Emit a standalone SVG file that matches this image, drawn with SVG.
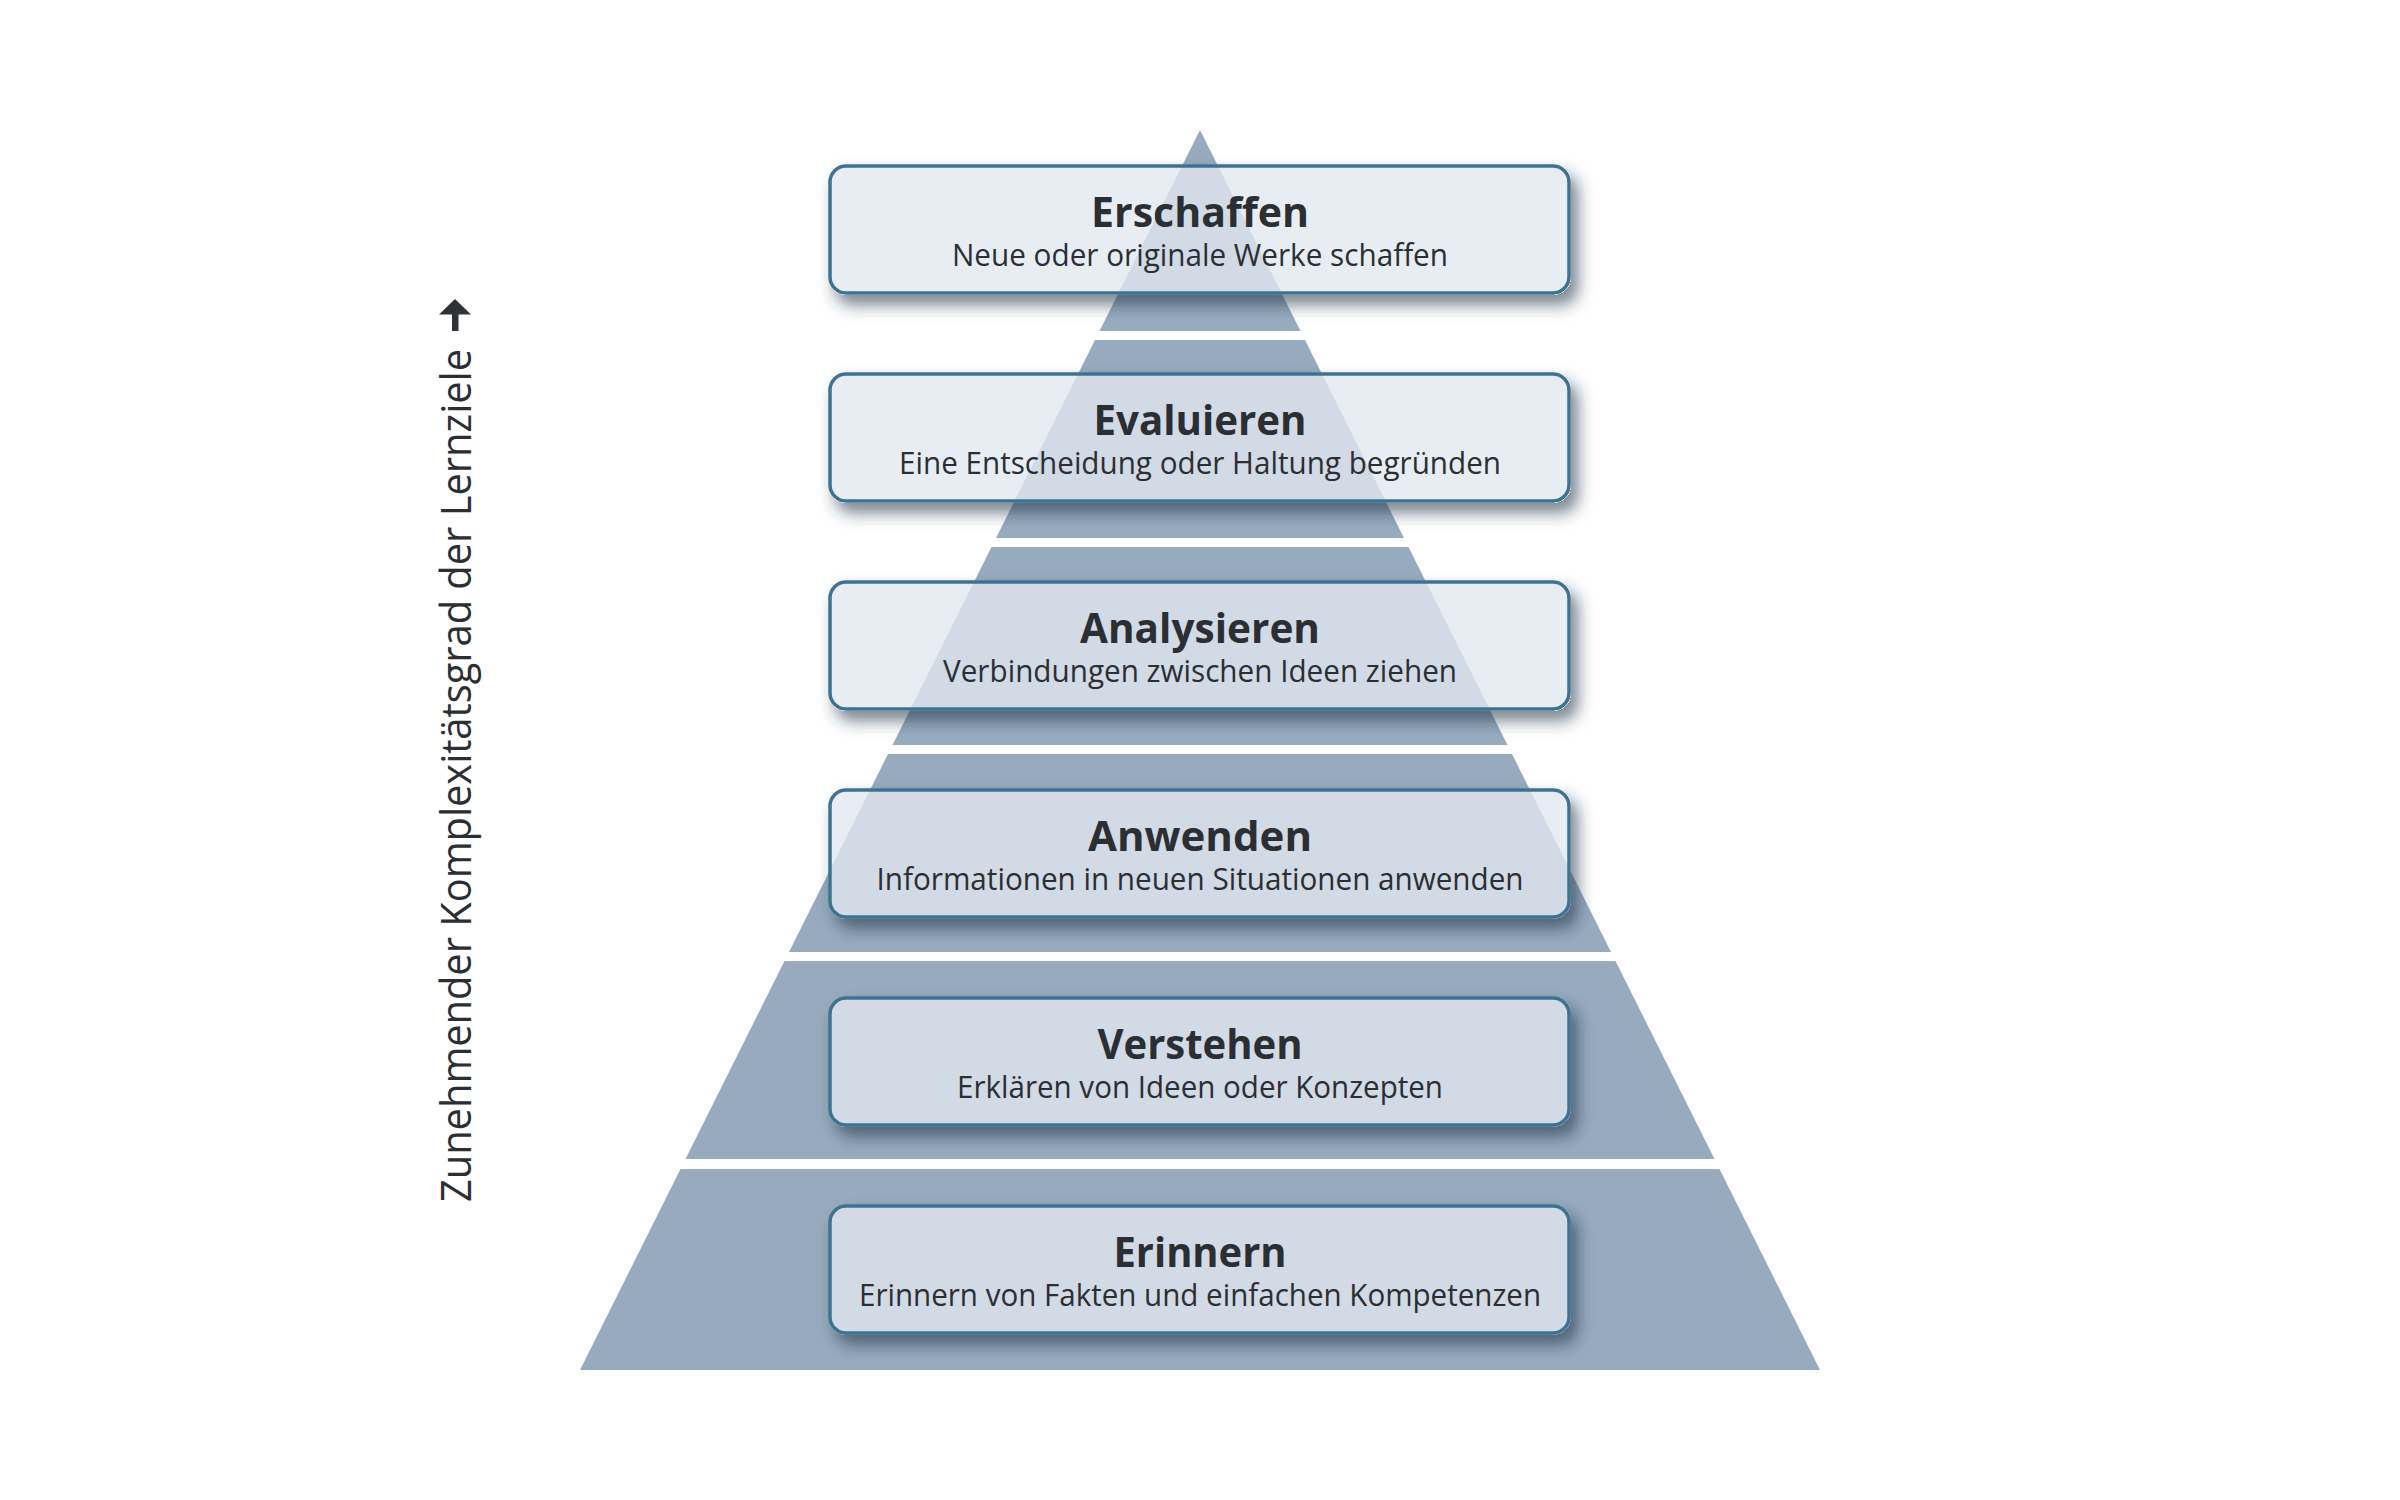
<svg xmlns="http://www.w3.org/2000/svg" width="2400" height="1500" viewBox="0 0 2400 1500">
  <defs>
    <style>
      .tier { fill: #98abbe; }
      .box { fill: #e2e8ef; fill-opacity: 0.78; stroke: #3d7391; stroke-width: 3.5; }
      .title { font-family: "Open Sans", "Liberation Sans", sans-serif; font-weight: 700; font-size: 42px; fill: #2b2e33; text-anchor: middle; }
      .sub { font-family: "Open Sans", "Liberation Sans", sans-serif; font-weight: 400; font-size: 31px; fill: #2b2e33; text-anchor: middle; }
      .axis { font-family: "Open Sans", "Liberation Sans", sans-serif; font-weight: 400; font-size: 42px; fill: #2b2e33; }
    </style>
    <filter id="shadow" x="-10%" y="-30%" width="125%" height="170%">
      <feComponentTransfer in="SourceAlpha" result="solid">
        <feFuncA type="linear" slope="20"/>
      </feComponentTransfer>
      <feGaussianBlur in="solid" stdDeviation="8" result="blur"/>
      <feOffset in="blur" dx="7" dy="10" result="off"/>
      <feFlood flood-color="#1e3446" flood-opacity="0.6"/>
      <feComposite in2="off" operator="in" result="sh"/>
      <feComposite in="sh" in2="solid" operator="out" result="shOut"/>
      <feMerge>
        <feMergeNode in="shOut"/>
        <feMergeNode in="SourceGraphic"/>
      </feMerge>
    </filter>
  </defs>

  <rect x="0" y="0" width="2400" height="1500" fill="#ffffff"/>

  <g id="pyramid">
    <polygon class="tier" points="1200,130 1300.5,331 1099.5,331"/>
    <polygon class="tier" points="1095,340 1305,340 1404,538 996,538"/>
    <polygon class="tier" points="991.5,547 1408.5,547 1507.5,745 892.5,745"/>
    <polygon class="tier" points="888,754 1512,754 1611,952 789,952"/>
    <polygon class="tier" points="784.5,961 1615.5,961 1714.5,1159 685.5,1159"/>
    <polygon class="tier" points="680.5,1169 1719.5,1169 1820,1370 580,1370"/>
  </g>

  <g id="connectors"></g>

  <g id="node-erschaffen">
    <rect class="box" x="830" y="166" width="739" height="127" rx="16" filter="url(#shadow)"/>
    <text class="title" x="1200" y="226.5" textLength="218" lengthAdjust="spacingAndGlyphs">Erschaffen</text>
    <text class="sub" x="1200" y="266" textLength="496" lengthAdjust="spacingAndGlyphs">Neue oder originale Werke schaffen</text>
  </g>

  <g id="node-evaluieren">
    <rect class="box" x="830" y="374" width="739" height="127" rx="16" filter="url(#shadow)"/>
    <text class="title" x="1200" y="434.5" textLength="213" lengthAdjust="spacingAndGlyphs">Evaluieren</text>
    <text class="sub" x="1200" y="474" textLength="602" lengthAdjust="spacingAndGlyphs">Eine Entscheidung oder Haltung begründen</text>
  </g>

  <g id="node-analysieren">
    <rect class="box" x="830" y="582" width="739" height="127" rx="16" filter="url(#shadow)"/>
    <text class="title" x="1200" y="642.5" textLength="240" lengthAdjust="spacingAndGlyphs">Analysieren</text>
    <text class="sub" x="1200" y="682" textLength="514" lengthAdjust="spacingAndGlyphs">Verbindungen zwischen Ideen ziehen</text>
  </g>

  <g id="node-anwenden">
    <rect class="box" x="830" y="790" width="739" height="127" rx="16" filter="url(#shadow)"/>
    <text class="title" x="1200" y="850.5" textLength="224" lengthAdjust="spacingAndGlyphs">Anwenden</text>
    <text class="sub" x="1200" y="890" textLength="647" lengthAdjust="spacingAndGlyphs">Informationen in neuen Situationen anwenden</text>
  </g>

  <g id="node-verstehen">
    <rect class="box" x="830" y="998" width="739" height="127" rx="16" filter="url(#shadow)"/>
    <text class="title" x="1200" y="1058.5" textLength="205" lengthAdjust="spacingAndGlyphs">Verstehen</text>
    <text class="sub" x="1200" y="1098" textLength="486" lengthAdjust="spacingAndGlyphs">Erklären von Ideen oder Konzepten</text>
  </g>

  <g id="node-erinnern">
    <rect class="box" x="830" y="1206" width="739" height="127" rx="16" filter="url(#shadow)"/>
    <text class="title" x="1200" y="1266.5" textLength="173" lengthAdjust="spacingAndGlyphs">Erinnern</text>
    <text class="sub" x="1200" y="1306" textLength="682" lengthAdjust="spacingAndGlyphs">Erinnern von Fakten und einfachen Kompetenzen</text>
  </g>

  <g id="axis">
    <text class="axis" transform="translate(471,1202) rotate(-90)" x="0" y="0" textLength="853" lengthAdjust="spacingAndGlyphs">Zunehmender Komplexitätsgrad der Lernziele</text>
    <polygon points="455,299 471,314.5 439,314.5" fill="#2f3236"/>
    <rect x="452" y="313" width="6.5" height="18" fill="#2f3236"/>
  </g>
</svg>
